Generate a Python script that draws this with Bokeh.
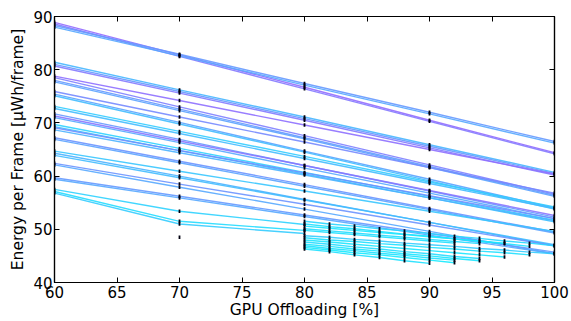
import numpy as np
from bokeh.plotting import figure
from bokeh.models import LinearAxis, Range1d, FixedTicker
from bokeh.embed import file_html
from bokeh.resources import INLINE

# ---------------- data ----------------
offload_x = [60, 70, 80, 90, 100]
full_series = [
    [88.9, 82.8, 76.7, 70.5, 64.4],
    [88.6, 82.5, 76.4, 70.3, 64.2],
    [88.3, 82.9, 77.4, 72.0, 66.5],
    [88.0, 82.6, 77.1, 71.7, 66.2],
    [81.4, 76.2, 71.1, 65.9, 60.7],
    [81.0, 75.9, 70.8, 65.6, 60.5],
    [80.7, 75.6, 70.5, 65.3, 60.2],
    [78.8, 74.2, 69.6, 65.0, 60.4],
    [78.5, 73.0, 67.6, 62.1, 56.6],
    [78.0, 72.6, 67.2, 61.8, 56.4],
    [77.7, 72.3, 67.0, 61.6, 56.2],
    [75.9, 71.1, 66.4, 61.6, 56.8],
    [75.4, 70.1, 64.7, 59.4, 54.0],
    [75.1, 69.8, 64.5, 59.1, 53.8],
    [73.1, 68.4, 63.7, 58.9, 54.2],
    [72.7, 68.0, 63.3, 58.6, 53.9],
    [71.7, 66.9, 62.0, 57.2, 52.3],
    [71.3, 66.6, 62.0, 57.3, 52.6],
    [71.0, 66.3, 61.5, 56.8, 52.0],
    [69.7, 65.2, 60.7, 56.2, 51.7],
    [69.3, 64.8, 60.4, 55.9, 51.4],
    [69.1, 64.8, 60.6, 56.3, 52.0],
    [68.7, 64.4, 60.2, 55.9, 51.6],
    [67.2, 62.8, 58.4, 53.9, 49.5],
    [66.9, 62.5, 58.1, 53.7, 49.3],
    [64.7, 60.9, 57.2, 53.4, 49.6],
    [64.3, 60.0, 55.6, 51.3, 46.9],
    [63.9, 59.7, 55.5, 51.3, 47.1],
    [62.4, 58.5, 54.7, 50.8, 46.9],
    [62.1, 57.9, 53.8, 49.6, 45.4],
    [59.7, 56.2, 52.7, 49.2, 45.7],
    [59.4, 55.9, 52.4, 48.9, 45.4],
]
full_shade = [0.58, 0.52, 0.40, 0.34, 0.28, 0.40, 0.52, 0.56, 0.50, 0.40, 0.36,
              0.46, 0.36, 0.26, 0.20, 0.26, 0.40, 0.54, 0.34, 0.18, 0.24, 0.44,
              0.30, 0.42, 0.36, 0.22, 0.30, 0.26, 0.42, 0.34, 0.40, 0.34]

short_x = [60, 70, 80]
short_series = [
    [57.5, 53.4, 50.9],
    [57.1, 51.5, 49.8],
    [56.8, 51.0, 49.2],
]
short_shade = [0.18, 0.14, 0.20]

lone_x = [70]
lone_y = [48.5]

cluster_x = [80, 82, 84, 86, 88, 90, 92, 94, 96, 98, 100]
cluster_series = [
    [51.5, 51.0, 50.6, 50.1, 49.7, 49.2, 48.7, 48.3, 47.8, 47.4, 46.9],
    [51.0, 50.5, 50.1, 49.6, 49.1, 48.7, 48.2, 47.7, 47.3, 46.8],
    [50.6, 50.2, 49.8, 49.4, 49.0, 48.6, 48.2, 47.8, 47.4],
    [50.1, 49.7, 49.3, 48.9, 48.5, 48.1, 47.7, 47.3],
    [49.8, 49.4, 49.0, 48.6, 48.2, 47.8, 47.4],
    [48.8, 48.5, 48.1, 47.8, 47.4, 47.1, 46.8, 46.4, 46.1, 45.7, 45.4],
    [48.4, 48.0, 47.7, 47.3, 47.0, 46.6, 46.3, 45.9, 45.6, 45.2],
    [48.0, 47.6, 47.2, 46.8, 46.4, 46.0, 45.6, 45.2, 44.8],
    [47.6, 47.2, 46.7, 46.3, 45.8, 45.4, 44.9, 44.5],
    [47.2, 46.8, 46.3, 45.9, 45.4, 45.0, 44.5, 44.1],
    [46.9, 46.4, 46.0, 45.5, 45.1, 44.6, 44.2],
    [46.6, 46.1, 45.6, 45.2, 44.7, 44.2, 43.7],
    [46.3, 45.8, 45.2, 44.7, 44.1, 43.6],
]
cluster_shade = [0.16, 0.12, 0.10, 0.14, 0.12, 0.20, 0.12, 0.10, 0.14, 0.10,
                 0.12, 0.08, 0.12]

x_ticks = [60, 65, 70, 75, 80, 85, 90, 95, 100]
y_ticks = [40, 50, 60, 70, 80, 90]


def cool(c):
    return "#%02x%02x%02x" % (int(255 * c), int(255 * (1 - c)), 255)


# ---------------- assemble ----------------
line_xs, line_ys, line_cols = [], [], []
for ys, c in zip(full_series, full_shade):
    line_xs.append(offload_x[:len(ys)]); line_ys.append(ys); line_cols.append(cool(c))
for ys, c in zip(short_series, short_shade):
    line_xs.append(short_x[:len(ys)]); line_ys.append(ys); line_cols.append(cool(c))
for ys, c in zip(cluster_series, cluster_shade):
    line_xs.append(cluster_x[:len(ys)]); line_ys.append(ys); line_cols.append(cool(c))

mx = [x for xs in line_xs for x in xs] + lone_x
my = [y for ys in line_ys for y in ys] + lone_y

FONT = "DejaVu Sans"

p = figure(width=571, height=321, x_range=Range1d(60, 100), y_range=Range1d(40, 90),
           output_backend="svg", toolbar_location=None,
           min_border_left=54, min_border_right=17, min_border_top=16, min_border_bottom=37)
p.background_fill_color = "white"
p.border_fill_color = "white"
p.grid.visible = False
p.outline_line_color = "black"
p.outline_line_width = 1.2

p.multi_line(line_xs, line_ys, line_color=line_cols, line_width=1.4, line_alpha=0.9)
p.scatter(mx, my, marker="dash", angle=np.pi / 2, size=3.5, line_width=1.8,
          line_color="#000010", fill_color="#000010")


def style_axis(ax, ticks, labels=True):
    ax.ticker = FixedTicker(ticks=ticks)
    ax.major_tick_in = 5
    ax.major_tick_out = 0
    ax.minor_tick_line_color = None
    ax.axis_line_color = "black"
    ax.axis_line_width = 1.2
    ax.major_tick_line_color = "black"
    ax.major_label_text_font = FONT
    ax.axis_label_text_font = FONT
    ax.axis_label_text_font_style = "normal"
    ax.axis_label_text_color = "black"
    if labels:
        ax.major_label_text_color = "black"
        ax.major_label_text_font_size = "15px"
        ax.axis_label_text_font_size = "15.5px"
    else:
        ax.major_label_text_color = None
        ax.major_label_text_font_size = "1px"


style_axis(p.xaxis[0], x_ticks)
style_axis(p.yaxis[0], y_ticks)
p.xaxis[0].axis_label = "GPU Offloading [%]"
p.yaxis[0].axis_label = "Energy per Frame [μWh/frame]"
p.xaxis[0].major_label_standoff = 3
p.xaxis[0].axis_label_standoff = 0
p.yaxis[0].major_label_standoff = 2
p.yaxis[0].axis_label_standoff = 3

top = LinearAxis()
style_axis(top, x_ticks, labels=False)
p.add_layout(top, "above")
right = LinearAxis()
style_axis(right, y_ticks, labels=False)
p.add_layout(right, "right")

open("out.html", "w").write(file_html(p, INLINE))
